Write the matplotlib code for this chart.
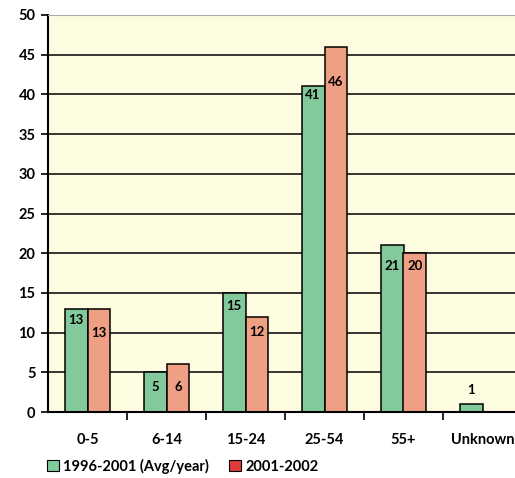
import matplotlib.pyplot as plt
import matplotlib.patches as mpatches
import numpy as np

# age groups and yearly counts
age_groups = ["0-5", "6-14", "15-24", "25-54", "55+", "Unknown"]
avg_1996_2001 = [13, 5, 15, 41, 21, 1]
cases_2001_2002 = [13, 6, 12, 46, 20, 0]
series_names = ["1996-2001 (Avg/year)", "2001-2002"]

# label shifts below bar top, in pixels (Excel-style placement)
green_shift = [11, 15, 13, 9, 21, -14]
red_shift = [24, 23, 15, 35, 13, 0]

green = "#82c99b"
salmon = "#ef9f84"

plt.rcParams['font.family'] = ['Lato', 'DejaVu Sans']
plt.rcParams['font.weight'] = 'bold'

fig = plt.figure(figsize=(5.15, 4.78), dpi=100)
ax = fig.add_axes([48/515, 66/478, 474/515, 397/478])
ax.set_facecolor("#fdfbe0")

x = np.arange(len(age_groups))
w = 0.29
ax.set_axisbelow(True)
ax.yaxis.grid(True, color="black", linewidth=1.1)
b1 = ax.bar(x - w/2, avg_1996_2001, w, color=green, edgecolor="black", linewidth=1.1)
b2 = ax.bar(x + w/2, cases_2001_2002, w, color=salmon, edgecolor="black", linewidth=1.1)
b2[-1].set_visible(False)

for i in range(len(age_groups)):
    ax.annotate(str(avg_1996_2001[i]), (x[i] - w/2, avg_1996_2001[i]),
                xytext=(0, -green_shift[i] * 0.72), textcoords="offset points",
                ha="center", va="center", fontsize=9.5, fontweight="bold")
    if cases_2001_2002[i] > 0:
        ax.annotate(str(cases_2001_2002[i]), (x[i] + w/2, cases_2001_2002[i]),
                    xytext=(0, -red_shift[i] * 0.72), textcoords="offset points",
                    ha="center", va="center", fontsize=9.5, fontweight="bold")

ax.set_xlim(-0.5, len(age_groups) - 0.5)
ax.set_ylim(0, 50)
ax.set_yticks(range(0, 51, 5))
ax.set_xticks(x)
ax.set_xticklabels(age_groups)
ax.set_xticks(np.arange(0.5, len(age_groups) - 0.5), minor=True)
ax.tick_params(axis="x", which="major", length=0, pad=15, labelsize=10.5)
ax.tick_params(axis="x", which="minor", length=6, width=1.2, direction="out")
ax.tick_params(axis="y", length=5, width=1.2, labelsize=10.5, pad=4)
for lab in ax.get_xticklabels() + ax.get_yticklabels():
    lab.set_fontweight("bold")

ax.spines["right"].set_visible(False)
ax.spines["top"].set_color("#aaaaaa")
ax.spines["left"].set_linewidth(1.5)
ax.spines["bottom"].set_linewidth(1.5)

handles = [mpatches.Patch(facecolor=green, edgecolor="black", linewidth=0.8),
           mpatches.Patch(facecolor="#e03c3c", edgecolor="black", linewidth=0.8)]
fig.legend(handles, series_names, loc="center left", bbox_to_anchor=(34/515, 1 - 466/478),
           ncol=2, frameon=False, handlelength=0.8, handleheight=0.8, handletextpad=0.3,
           columnspacing=1.4, prop={"size": 10.5, "weight": "bold"})

fig.savefig("out.png", dpi=100)
